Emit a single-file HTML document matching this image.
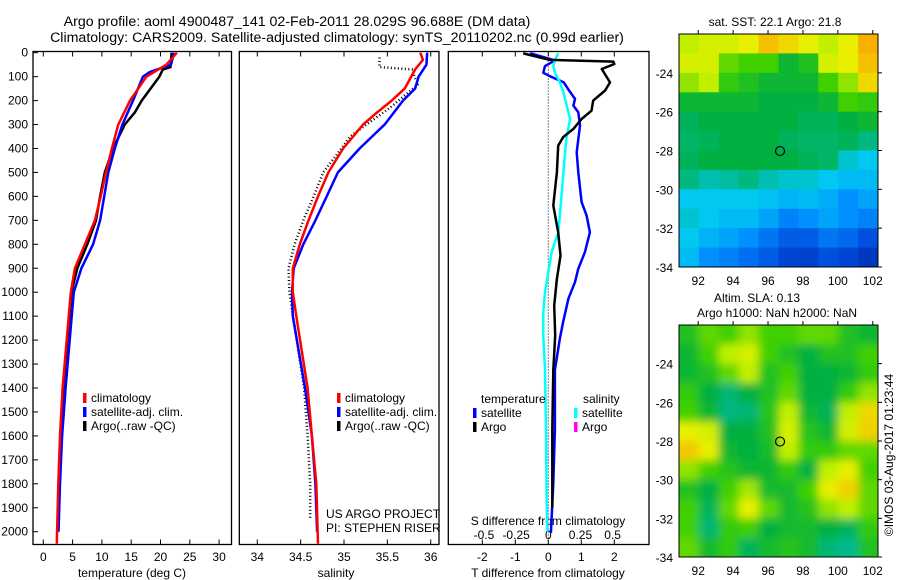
<!DOCTYPE html>
<html><head><meta charset="utf-8">
<style>
html,body{margin:0;padding:0;background:#fff;}
svg{display:block;font-family:"Liberation Sans",Arial,sans-serif;}
text{fill:#000;}
</style></head>
<body>
<svg id="fig" width="900" height="580" viewBox="0 0 900 580" xmlns="http://www.w3.org/2000/svg">
<text x="297" y="26" font-size="14.2" text-anchor="middle">Argo profile: aoml 4900487_141 02-Feb-2011 28.029S 96.688E (DM data)</text>
<text x="337" y="42" font-size="14.2" text-anchor="middle">Climatology: CARS2009. Satellite-adjusted climatology: synTS_20110202.nc (0.99d earlier)</text>
<g id="g"></g>
</svg>
<script>
// ---------- data ----------
var tDepthClim=[0,50,100,200,300,400,500,600,700,800,900,1000,1400,1600,1800,2050];
var tClim=[22.8,21.0,17.6,14.8,12.8,11.7,10.7,9.8,8.8,7.1,5.4,4.7,3.3,2.85,2.56,2.3];
var tDepthSat=[0,50,80,100,200,300,400,500,600,700,800,900,1000,1400,1600,1800,2000];
var tSat=[22.3,21.8,18.2,17.0,15.3,13.5,12.2,11.1,10.4,9.7,8.5,6.5,5.2,3.8,3.2,2.85,2.6];
var tDepthArgo=[0,60,70,100,200,250,300,400,500,600,700,800,900,1000,1400,1800,2000];
var tArgo=[21.9,21.7,20.4,19.8,16.8,15.6,13.9,11.9,10.5,9.7,9.0,7.5,5.8,4.8,3.4,2.7,2.5];

var sDepthClim=[0,30,70,150,200,250,300,400,500,600,700,800,900,1000,1100,1400,1600,1800,2050];
var sClim=[35.88,35.91,35.82,35.70,35.55,35.38,35.22,34.99,34.82,34.70,34.59,34.49,34.41,34.41,34.45,34.58,34.63,34.68,34.70];
var sDepthSat=[0,50,100,150,200,300,400,500,600,700,800,900,1000,1100,1400,1600,1800,2000];
var sSat=[35.96,35.95,35.86,35.82,35.68,35.47,35.18,34.93,34.80,34.67,34.53,34.42,34.40,34.41,34.55,34.63,34.67,34.69];
var sDepthArgo=[20,60,70,100,130,230,300,350,400,500,600,700,800,900,1000,1400,1600,1800,1950];
var sArgo=[35.41,35.41,35.80,35.81,35.86,35.53,35.26,35.07,34.97,34.76,34.65,34.53,34.43,34.36,34.37,34.54,34.58,34.61,34.61];

var dDepthTArgo=[3,30,37,47,68,124,158,200,242,277,318,353,388,499,638,750,847,944,1056,1181,1325,1575,1900];
var dTArgo=[-0.76,0.05,1.97,2.0,1.62,1.87,1.72,1.36,1.31,1.01,0.76,0.45,0.30,0.26,0.15,0.30,0.37,0.26,0.18,0.21,0.15,0.12,0.12];
var dDepthTSat=[2,26,32,56,84,98,124,152,193,221,249,304,416,499,624,680,750,833,902,958,1027,1125,1195,1325,1575,1797,2005];
var dTSat=[-0.55,0.05,0.2,-0.1,-0.15,0.05,0.47,0.6,0.81,0.76,0.91,0.96,0.86,0.91,1.01,1.16,1.26,1.11,0.91,0.81,0.61,0.45,0.35,0.20,0.20,0.15,0.08];
var dDepthSSat=[2,30,56,84,124,166,221,277,360,499,638,750,833,916,1000,1083,1181,1325,1575,1854,2000];
var dSSat=[0.078,0.052,0.039,0.052,0.091,0.117,0.143,0.169,0.14,0.117,0.096,0.078,0.026,0.0,-0.026,-0.039,-0.039,-0.026,-0.018,-0.013,-0.008];

var depthTicks=[0,100,200,300,400,500,600,700,800,900,1000,1100,1200,1300,1400,1500,1600,1700,1800,1900,2000];
var tempTicks=[0,5,10,15,20,25,30];
var salTicks=[34,34.5,35,35.5,36];
var tDiffTicks=[-2,-1,0,1,2];
var sDiffTicks=[-0.5,-0.25,0,0.25,0.5];
var latTicks=[-24,-26,-28,-30,-32,-34];
var lonTicks=[92,94,96,98,100,102];

var sstGrid=[
[0.68,0.7,0.7,0.72,0.78,0.75,0.72,0.68,0.72,0.8],
[0.7,0.7,0.62,0.6,0.6,0.52,0.55,0.7,0.72,0.78],
[0.65,0.68,0.58,0.55,0.52,0.52,0.52,0.6,0.65,0.75],
[0.52,0.52,0.52,0.52,0.5,0.5,0.5,0.52,0.6,0.58],
[0.48,0.5,0.5,0.5,0.5,0.5,0.48,0.48,0.5,0.52],
[0.47,0.48,0.5,0.5,0.5,0.48,0.47,0.47,0.48,0.45],
[0.48,0.5,0.5,0.5,0.5,0.5,0.48,0.47,0.4,0.38],
[0.45,0.42,0.43,0.45,0.42,0.4,0.4,0.38,0.36,0.36],
[0.38,0.38,0.38,0.38,0.37,0.35,0.36,0.34,0.3,0.33],
[0.4,0.38,0.36,0.36,0.33,0.28,0.3,0.33,0.3,0.28],
[0.38,0.35,0.33,0.3,0.26,0.22,0.22,0.26,0.24,0.2],
[0.36,0.3,0.28,0.25,0.22,0.18,0.17,0.2,0.18,0.15]];
var slaGrid=[
[0.55,0.62,0.6,0.65,0.6,0.6,0.62,0.62,0.55,0.52],
[0.52,0.6,0.68,0.7,0.6,0.55,0.5,0.55,0.55,0.6],
[0.52,0.55,0.62,0.68,0.55,0.6,0.5,0.5,0.52,0.58],
[0.58,0.5,0.46,0.5,0.55,0.62,0.5,0.5,0.58,0.65],
[0.6,0.52,0.45,0.46,0.56,0.68,0.52,0.48,0.68,0.75],
[0.72,0.7,0.5,0.5,0.55,0.7,0.56,0.52,0.7,0.76],
[0.77,0.72,0.52,0.5,0.53,0.68,0.58,0.58,0.62,0.62],
[0.65,0.6,0.56,0.52,0.52,0.58,0.5,0.68,0.72,0.6],
[0.55,0.5,0.6,0.66,0.53,0.53,0.6,0.72,0.76,0.62],
[0.6,0.48,0.62,0.72,0.62,0.53,0.56,0.65,0.68,0.62],
[0.6,0.46,0.58,0.6,0.5,0.53,0.53,0.5,0.48,0.58],
[0.62,0.53,0.58,0.48,0.53,0.56,0.53,0.46,0.44,0.55]];
var floatLon=96.688, floatLat=-28.029;

// ---------- helpers ----------
var NS='http://www.w3.org/2000/svg';
var G=document.getElementById('g');
function el(tag,attrs,parent){var e=document.createElementNS(NS,tag);for(var k in attrs)e.setAttribute(k,attrs[k]);(parent||G).appendChild(e);return e;}
function txt(x,y,s,size,anchor,parent){var t=el('text',{x:x,y:y,'font-size':size||12,'text-anchor':anchor||'start'},parent);t.textContent=s;return t;}
var TOP=51.5,BOT=544.5;
function yD(d){return 52.7+d*0.2395;}
function xT(t){return 43.3+t*5.86;}
function xS(s){return 257.3+(s-34)*86.7;}
function xDT(v){return 548.3+v*33;}
function xDS(v){return 548.3+v*128.7;}

function box(x0,x1,name){
  var r=el('rect',{x:x0,y:TOP,width:x1-x0,height:BOT-TOP,fill:'none',stroke:'#000','stroke-width':1.3});
  
  
}
function line(xs,ds,fx,color,w,name,dash){
  var p='';for(var i=0;i<xs.length;i++){p+=(i?'L':'M')+fx(xs[i]).toFixed(1)+','+yD(ds[i]).toFixed(1);}
  var a={d:p,fill:'none',stroke:color,'stroke-width':w,'stroke-linejoin':'round'};
  if(dash)a['stroke-dasharray']=dash;
  var e=el('path',a);
  
  
}
function xticks(vals,fx,labY,fmt,top,bottom){
  vals.forEach(function(v){var x=fx(v);
    if(top)el('line',{x1:x,x2:x,y1:TOP,y2:TOP+5,stroke:'#000'});
    if(bottom)el('line',{x1:x,x2:x,y1:BOT,y2:BOT-5,stroke:'#000'});
    if(labY){var t=txt(x,labY,fmt?fmt(v):String(v),12,'middle');
      
      }
  });
}
function legendEntry(x,y,color,label){
  var m=el('rect',{x:x,y:y-9,width:3.5,height:10,fill:color});
  
  
  var t=txt(x+8,y,label,12);
  
  
}

// ---------- panel 1: temperature ----------
box(33,231.5,'temperature-panel');
depthTicks.forEach(function(d){var y=yD(d);
  el('line',{x1:33,x2:38,y1:y,y2:y,stroke:'#000'});
  var t=txt(28,y+4,String(d),12,'end');
  
  
});
xticks(tempTicks,xT,561,null,true,true);
var a1=txt(132,577,'temperature (deg C)',12,'middle');


line(tArgo,tDepthArgo,xT,'#000',2.5,'temperature-argo-line');
line(tSat,tDepthSat,xT,'#0000ff',2.5,'temperature-satellite-line');
line(tClim,tDepthClim,xT,'#ff0000',2.5,'temperature-climatology-line');
legendEntry(83,402,'#ff0000','climatology');
legendEntry(83,416,'#0000ff','satellite-adj. clim.');
legendEntry(83,430,'#000','Argo(..raw -QC)');

// ---------- panel 2: salinity ----------
box(239.3,439,'salinity-panel');
xticks(salTicks,xS,561,null,true,true);
var a2=txt(336,577,'salinity',12,'middle');


line(sArgo,sDepthArgo,xS,'#000',2.5,'salinity-argo-line','1 2.5');
line(sSat,sDepthSat,xS,'#0000ff',2.5,'salinity-satellite-line');
line(sClim,sDepthClim,xS,'#ff0000',2.5,'salinity-climatology-line');
legendEntry(337,402,'#ff0000','climatology');
legendEntry(337,416,'#0000ff','satellite-adj. clim.');
legendEntry(337,430,'#000','Argo(..raw -QC)');
var c1=txt(326,518,'US ARGO PROJECT',12);


var c2=txt(326,532,'PI: STEPHEN RISER',12);



// ---------- panel 3: differences ----------
box(448.3,649,'difference-panel');
el('line',{x1:548.3,x2:548.3,y1:TOP,y2:BOT,stroke:'#000','stroke-width':1,'stroke-dasharray':'1 2'});
xticks(tDiffTicks,xDT,561,null,true,true);
sDiffTicks.forEach(function(v){var t=txt(xDS(v),539,String(v),12,'middle');
  
  });
var a3=txt(548,525,'S difference from climatology',12,'middle');


var a4=txt(548,577,'T difference from climatology',12,'middle');


line(dTSat,dDepthTSat,xDT,'#0000ff',2.5,'t-diff-satellite-line');
line(dSSat,dDepthSSat,xDS,'#00ffff',2.5,'s-diff-satellite-line');
line(dTArgo,dDepthTArgo,xDT,'#000',2.5,'t-diff-argo-line');
var lt=txt(481,403,'temperature',12);


var ls=txt(583,403,'salinity',12);


legendEntry(473,417,'#0000ff','satellite');
legendEntry(473,431,'#000','Argo');
legendEntry(574,417,'#00ffff','satellite');
legendEntry(574,431,'#ff00ff','Argo');

// ---------- maps ----------
var stops=[[0.1,[0,32,160]],[0.2,[0,80,224]],[0.3,[0,144,255]],[0.38,[0,200,240]],[0.45,[0,184,128]],[0.5,[0,176,64]],[0.6,[64,208,0]],[0.68,[192,240,0]],[0.72,[232,240,0]],[0.8,[248,176,0]]];
function cmap(v){
  if(v<=stops[0][0])return 'rgb('+stops[0][1]+')';
  for(var i=1;i<stops.length;i++){if(v<=stops[i][0]){var a=stops[i-1],b=stops[i],f=(v-a[0])/(b[0]-a[0]);
    var c=a[1].map(function(q,j){return Math.round(q+(b[1][j]-q)*f);});return 'rgb('+c+')';}}
  return 'rgb('+stops[stops.length-1][1]+')';
}
var LON0=90.9,LON1=102.3,LAT0=-22,LAT1=-34;
function drawMap(grid,x0,x1,y0,y1,name,blur){
  var fx=function(lon){return x0+(lon-LON0)/(LON1-LON0)*(x1-x0);};
  var fy=function(lat){return y0+(lat-LAT0)/(LAT1-LAT0)*(y1-y0);};
  var cid='clip'+name;
  var defs=el('defs',{});
  var cp=el('clipPath',{id:cid},defs);el('rect',{x:x0,y:y0,width:x1-x0,height:y1-y0},cp);
  if(blur){var f=el('filter',{id:'bl'+name,x:'-10%',y:'-10%',width:'120%',height:'120%'},defs);el('feGaussianBlur',{stdDeviation:4.5},f);}
  var outer=el('g',{'clip-path':'url(#'+cid+')'});
  var gg=el('g',blur?{filter:'url(#bl'+name+')'}:{},outer);
  var rows=grid.length,cols=grid[0].length,dl=(LON1-LON0)/cols,da=(LAT0-LAT1)/rows;
  for(var r=-1;r<=rows;r++)for(var c=-1;c<=cols;c++){
    var rr=Math.min(rows-1,Math.max(0,r)),cc=Math.min(cols-1,Math.max(0,c));
    var xa=fx(LON0+c*dl),xb=fx(LON0+(c+1)*dl),ya=fy(LAT0-r*da),yb=fy(LAT0-(r+1)*da);
    var cell=el('rect',{x:xa.toFixed(1),y:ya.toFixed(1),width:(xb-xa+0.6).toFixed(1),height:(yb-ya+0.6).toFixed(1),fill:cmap(grid[rr][cc])},gg);
    
    
  }
  var b=el('rect',{x:x0,y:y0,width:x1-x0,height:y1-y0,fill:'none',stroke:'#000','stroke-width':1});
  
  
  latTicks.forEach(function(l){var y=fy(l);
    el('line',{x1:x1,x2:x1+4,y1:y,y2:y,stroke:'#000'});
    var t=txt(x0-6,y+5,String(l),12,'end');
    
    });
  lonTicks.forEach(function(l){var x=fx(l);
    el('line',{x1:x,x2:x,y1:y0,y2:y0-4,stroke:'#000'});
    var t=txt(x,y1+18,String(l),12,'middle');
    
    });
  var m=el('circle',{cx:fx(floatLon),cy:fy(floatLat),r:4.5,fill:'none',stroke:'#000','stroke-width':1.2});
  
  
}
drawMap(sstGrid,679,878,34,267,'sst-map',false);
drawMap(slaGrid,679,878,325,557,'sla-map',true);
var m1=txt(775,26,'sat. SST: 22.1 Argo: 21.8',12,'middle');


var m2=txt(757,302,'Altim. SLA: 0.13',12,'middle');


var m3=txt(777,317,'Argo h1000: NaN h2000: NaN',12,'middle');


var cr=txt(0,0,'©IMOS 03-Aug-2017 01:23:44',12,'middle');
cr.setAttribute('transform','translate(893,455) rotate(-90)');


</script>
</body></html>
